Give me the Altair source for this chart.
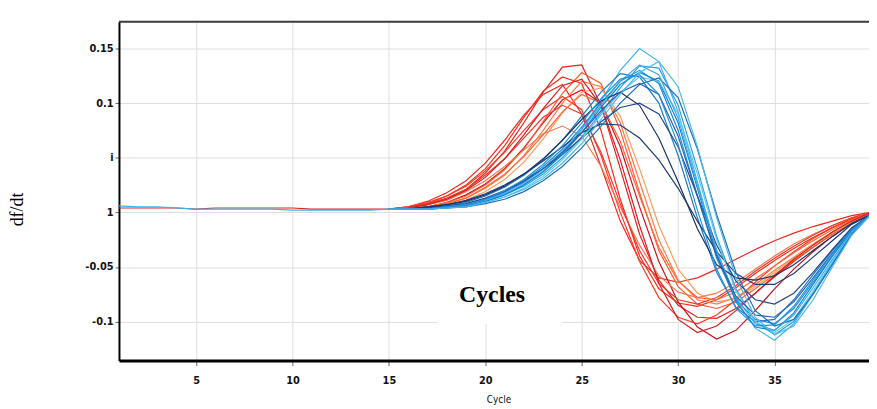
import altair as alt
import pandas as pd

# ---------------- data ----------------
curve_cycles = list(range(15, 41))
base_cycles = list(range(1, 16))

base_red = [0.004, 0.004, 0.004, 0.004, 0.003, 0.004, 0.004, 0.004, 0.004, 0.004, 0.003, 0.003, 0.003, 0.003, 0.003]
base_blue = [0.006, 0.005, 0.005, 0.004, 0.003, 0.003, 0.003, 0.003, 0.003, 0.002, 0.002, 0.002, 0.002, 0.002, 0.003]

red_series = [
    [0.003, 0.004, 0.007, 0.012, 0.021, 0.036, 0.056, 0.082, 0.110, 0.133, 0.135, 0.098, 0.040, -0.020, -0.062, -0.085, -0.096, -0.097, -0.088, -0.074, -0.059, -0.045, -0.032, -0.020, -0.009, 0.000],
    [0.003, 0.005, 0.008, 0.015, 0.025, 0.040, 0.061, 0.087, 0.111, 0.124, 0.118, 0.075, 0.012, -0.040, -0.070, -0.083, -0.086, -0.080, -0.069, -0.056, -0.044, -0.033, -0.023, -0.014, -0.006, 0.000],
    [0.003, 0.005, 0.010, 0.018, 0.029, 0.045, 0.066, 0.089, 0.108, 0.117, 0.090, 0.042, -0.008, -0.044, -0.060, -0.064, -0.060, -0.052, -0.043, -0.034, -0.026, -0.019, -0.013, -0.008, -0.003, 0.000],
    [0.003, 0.004, 0.005, 0.009, 0.016, 0.026, 0.040, 0.059, 0.082, 0.103, 0.112, 0.100, 0.060, 0.005, -0.045, -0.082, -0.105, -0.116, -0.108, -0.090, -0.070, -0.052, -0.036, -0.022, -0.010, 0.000],
    [0.003, 0.005, 0.009, 0.015, 0.024, 0.038, 0.055, 0.075, 0.094, 0.106, 0.094, 0.052, 0.000, -0.045, -0.078, -0.096, -0.102, -0.094, -0.080, -0.064, -0.049, -0.036, -0.024, -0.014, -0.006, 0.000],
    [0.003, 0.004, 0.005, 0.009, 0.015, 0.025, 0.039, 0.058, 0.083, 0.109, 0.128, 0.118, 0.075, 0.018, -0.035, -0.068, -0.084, -0.088, -0.082, -0.070, -0.057, -0.044, -0.032, -0.020, -0.009, 0.000],
    [0.003, 0.004, 0.005, 0.008, 0.013, 0.022, 0.034, 0.052, 0.075, 0.100, 0.120, 0.115, 0.082, 0.028, -0.025, -0.062, -0.080, -0.084, -0.078, -0.066, -0.053, -0.041, -0.029, -0.018, -0.008, 0.000],
    [0.003, 0.004, 0.005, 0.007, 0.011, 0.019, 0.030, 0.046, 0.067, 0.091, 0.110, 0.114, 0.088, 0.040, -0.012, -0.052, -0.074, -0.082, -0.079, -0.068, -0.055, -0.042, -0.030, -0.019, -0.009, 0.000],
    [0.003, 0.004, 0.007, 0.011, 0.019, 0.029, 0.042, 0.057, 0.072, 0.079, 0.070, 0.042, 0.005, -0.030, -0.058, -0.073, -0.078, -0.074, -0.064, -0.052, -0.040, -0.029, -0.020, -0.012, -0.005, 0.000],
    [0.003, 0.004, 0.008, 0.013, 0.021, 0.034, 0.049, 0.068, 0.087, 0.098, 0.090, 0.055, 0.008, -0.035, -0.065, -0.080, -0.084, -0.078, -0.067, -0.054, -0.042, -0.031, -0.021, -0.012, -0.005, 0.000],
    [0.003, 0.004, 0.005, 0.008, 0.013, 0.023, 0.035, 0.051, 0.071, 0.092, 0.108, 0.100, 0.065, 0.015, -0.032, -0.063, -0.078, -0.080, -0.073, -0.061, -0.049, -0.037, -0.026, -0.016, -0.007, 0.000],
    [0.003, 0.004, 0.007, 0.012, 0.020, 0.032, 0.049, 0.071, 0.095, 0.116, 0.122, 0.098, 0.048, -0.012, -0.065, -0.098, -0.110, -0.104, -0.090, -0.074, -0.058, -0.043, -0.030, -0.018, -0.008, 0.000],
]
red_colors = ["#e8201c", "#ff2a14", "#f0281e", "#c8101e", "#ff3a22", "#ff5a2e",
              "#ff7a40", "#ff9a5c", "#f47b50", "#e83a2a", "#ff6634", "#d41e1e"]

blue_series = [
    [0.003, 0.003, 0.003, 0.005, 0.007, 0.011, 0.017, 0.026, 0.038, 0.054, 0.076, 0.102, 0.130, 0.150, 0.138, 0.092, 0.028, -0.035, -0.080, -0.106, -0.117, -0.102, -0.075, -0.047, -0.020, -0.002],
    [0.003, 0.003, 0.003, 0.005, 0.007, 0.012, 0.019, 0.029, 0.042, 0.058, 0.078, 0.100, 0.120, 0.130, 0.118, 0.075, 0.015, -0.042, -0.080, -0.098, -0.102, -0.088, -0.064, -0.040, -0.017, -0.002],
    [0.003, 0.003, 0.004, 0.006, 0.009, 0.015, 0.023, 0.034, 0.048, 0.066, 0.088, 0.110, 0.127, 0.124, 0.100, 0.052, -0.005, -0.055, -0.087, -0.100, -0.098, -0.080, -0.057, -0.035, -0.015, -0.002],
    [0.003, 0.003, 0.003, 0.004, 0.006, 0.010, 0.016, 0.024, 0.035, 0.050, 0.069, 0.091, 0.114, 0.134, 0.132, 0.098, 0.040, -0.022, -0.070, -0.100, -0.112, -0.100, -0.074, -0.046, -0.019, -0.002],
    [0.003, 0.003, 0.005, 0.007, 0.011, 0.017, 0.025, 0.035, 0.047, 0.060, 0.073, 0.081, 0.080, 0.068, 0.048, 0.022, -0.008, -0.036, -0.056, -0.066, -0.066, -0.056, -0.041, -0.026, -0.011, -0.002],
    [0.003, 0.003, 0.004, 0.006, 0.008, 0.013, 0.020, 0.029, 0.040, 0.053, 0.068, 0.083, 0.096, 0.100, 0.090, 0.060, 0.015, -0.030, -0.063, -0.080, -0.084, -0.074, -0.055, -0.034, -0.014, -0.002],
    [0.003, 0.003, 0.003, 0.005, 0.006, 0.010, 0.016, 0.025, 0.037, 0.053, 0.073, 0.096, 0.117, 0.128, 0.120, 0.082, 0.022, -0.038, -0.082, -0.105, -0.108, -0.092, -0.066, -0.040, -0.016, -0.002],
    [0.003, 0.003, 0.003, 0.004, 0.005, 0.009, 0.014, 0.022, 0.033, 0.048, 0.067, 0.089, 0.110, 0.124, 0.120, 0.090, 0.035, -0.025, -0.072, -0.100, -0.110, -0.098, -0.072, -0.045, -0.018, -0.002],
    [0.003, 0.003, 0.003, 0.004, 0.005, 0.008, 0.012, 0.019, 0.029, 0.042, 0.059, 0.079, 0.100, 0.117, 0.123, 0.105, 0.058, -0.002, -0.055, -0.090, -0.104, -0.098, -0.075, -0.048, -0.020, -0.002],
    [0.003, 0.003, 0.005, 0.007, 0.010, 0.016, 0.024, 0.035, 0.049, 0.066, 0.085, 0.102, 0.110, 0.098, 0.068, 0.028, -0.015, -0.048, -0.060, -0.062, -0.058, -0.048, -0.035, -0.022, -0.010, -0.002],
    [0.003, 0.003, 0.003, 0.005, 0.007, 0.011, 0.018, 0.027, 0.040, 0.056, 0.076, 0.098, 0.120, 0.135, 0.126, 0.086, 0.025, -0.035, -0.078, -0.102, -0.108, -0.094, -0.069, -0.043, -0.018, -0.002],
    [0.003, 0.003, 0.003, 0.005, 0.007, 0.012, 0.019, 0.028, 0.040, 0.055, 0.073, 0.093, 0.110, 0.118, 0.108, 0.070, 0.015, -0.040, -0.077, -0.094, -0.096, -0.082, -0.060, -0.037, -0.016, -0.002],
    [0.003, 0.003, 0.003, 0.005, 0.007, 0.012, 0.020, 0.030, 0.044, 0.061, 0.082, 0.104, 0.122, 0.126, 0.108, 0.062, 0.002, -0.052, -0.088, -0.104, -0.103, -0.086, -0.062, -0.038, -0.016, -0.002],
    [0.003, 0.003, 0.003, 0.004, 0.005, 0.009, 0.014, 0.021, 0.031, 0.045, 0.063, 0.085, 0.108, 0.128, 0.138, 0.115, 0.060, -0.005, -0.060, -0.096, -0.112, -0.104, -0.080, -0.050, -0.021, -0.002],
]
blue_colors = ["#3fb4f0", "#1a8fd8", "#1f78c8", "#2aa0e6", "#1d3d75", "#24488a", "#0e86d4",
               "#5bc8f5", "#1b6fb8", "#1a3566", "#3fa9e8", "#2862b0", "#1e94e0", "#4ab8ee"]

base_colors = ["#e8201c", "#35b5e8"]

x_ticks = [5, 10, 15, 20, 25, 30, 35]
y_ticks = [-0.1, -0.05, 0, 0.05, 0.1, 0.15]
y_tick_labels = ["-0.1", "-0.05", "1", "i", "0.1", "0.15"]

x_title = "Cycle"
y_title = "df/dt"
note_text = "Cycles"
note_box_x = [17.5, 24.0]
note_box_y = [-0.052, -0.102]
note_pos = [20.35, -0.0822]

# ---------------- build table ----------------
rows = []
names, colors = [], []
for i, (vals, col) in enumerate(zip(red_series, red_colors)):
    name = f"a{i:02d}"
    names.append(name); colors.append(col)
    rows += [{"series": name, "cycle": c, "value": v} for c, v in zip(curve_cycles, vals)]
for i, (vals, col) in enumerate(zip(blue_series, blue_colors)):
    name = f"b{i:02d}"
    names.append(name); colors.append(col)
    rows += [{"series": name, "cycle": c, "value": v} for c, v in zip(curve_cycles, vals)]
for name, vals, col in [("c_red", base_red, base_colors[0]), ("d_blue", base_blue, base_colors[1])]:
    names.append(name); colors.append(col)
    rows += [{"series": name, "cycle": c, "value": v} for c, v in zip(base_cycles, vals)]
df = pd.DataFrame(rows)

W, H = 757, 342
xscale = alt.Scale(domain=[1, 39.9], nice=False, zero=False)
yscale = alt.Scale(domain=[-0.1357, 0.1745], nice=False, zero=False)

narrow = "DejaVu Sans Condensed, Liberation Sans Narrow, sans-serif"

label_expr = " : ".join(
    [f"datum.value == {v} ? '{t}'" for v, t in zip(y_ticks, y_tick_labels)]
) + " : ''"

x_axis = alt.Axis(values=x_ticks, grid=True, gridColor="#dedede", gridWidth=1,
                  domainColor="#000000", domainWidth=3, tickColor="#666666", tickSize=5,
                  labelFont=narrow, labelFontSize=11, labelFontWeight="bold", labelColor="#111111",
                  labelPadding=9, title=x_title, titleFont=narrow, titleFontSize=10,
                  titleFontWeight="normal", titleColor="#111111",
                  titleX=383, titleY=42, titleBaseline="alphabetic", titleAlign="center")
y_axis = alt.Axis(values=y_ticks, labelExpr=label_expr, grid=True, gridColor="#dedede", gridWidth=1,
                  domainColor="#000000", domainWidth=2, tickColor="#666666", tickSize=4,
                  labelFont=narrow, labelFontSize=11, labelFontWeight="bold", labelColor="#111111",
                  labelPadding=2, title=y_title, titleFont="Liberation Serif", titleFontSize=18,
                  titleFontWeight="normal", titleColor="#000000", titleAngle=270,
                  titleX=-97, titleY=189, titleBaseline="alphabetic", titleAlign="center")

lines = alt.Chart(df).mark_line(strokeWidth=1.2, clip=True).encode(
    x=alt.X("cycle:Q", scale=xscale, axis=x_axis),
    y=alt.Y("value:Q", scale=yscale, axis=y_axis),
    color=alt.Color("series:N", scale=alt.Scale(domain=names, range=colors), legend=None),
)

box_df = pd.DataFrame({"x1": [note_box_x[0]], "x2": [note_box_x[1]],
                       "y1": [note_box_y[0]], "y2": [note_box_y[1]]})
box = alt.Chart(box_df).mark_rect(fill="#ffffff").encode(
    x=alt.X("x1:Q", scale=xscale), x2="x2:Q",
    y=alt.Y("y1:Q", scale=yscale), y2="y2:Q",
)

txt_df = pd.DataFrame({"x": [note_pos[0]], "y": [note_pos[1]], "t": [note_text]})
txt = alt.Chart(txt_df).mark_text(font="Liberation Serif", fontSize=24, fontWeight="bold",
                                  color="#000000", align="center", baseline="alphabetic").encode(
    x=alt.X("x:Q", scale=xscale), y=alt.Y("y:Q", scale=yscale), text="t:N")

border = alt.Chart(pd.DataFrame({"k": [0]})).mark_rule(color="#3a3a3a", strokeWidth=2).encode(
    x=alt.value(0), x2=alt.value(W), y=alt.value(0))

chart = alt.layer(box, lines, txt, border).properties(
    width=W, height=H,
    padding={"left": 112, "top": 12, "right": 0, "bottom": 47},
    autosize=alt.AutoSizeParams(type="none"),
    background="#ffffff",
).configure_view(strokeWidth=0)

chart.save("out.html", embed_options={"renderer": "svg", "actions": False})
